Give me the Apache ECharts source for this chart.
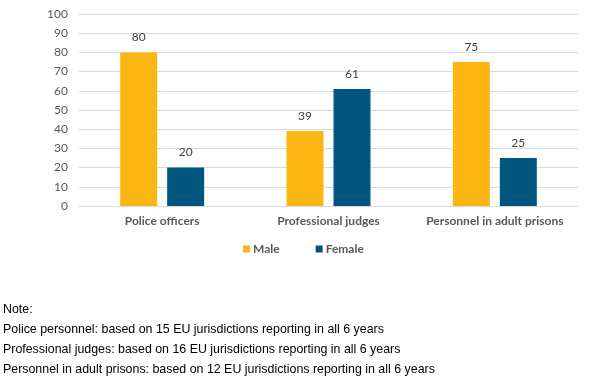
<!DOCTYPE html>
<html><head><meta charset="utf-8">
<script src="https://cdn.jsdelivr.net/npm/echarts@6/dist/echarts.min.js"></script>
<style>html,body{margin:0;padding:0;background:#fff}#c{width:602px;height:380px}</style>
</head><body><div id="c"></div>
<script>
const categories = ['Police officers', 'Professional judges', 'Personnel in adult prisons'];
const male = [80, 39, 75];
const female = [20, 61, 25];
const seriesNames = ['Male', 'Female'];
const yTicks = [0, 10, 20, 30, 40, 50, 60, 70, 80, 90, 100];
const notes = [
  'Note:',
  'Police personnel: based on 15 EU jurisdictions reporting in all 6 years',
  'Professional judges: based on 16 EU jurisdictions reporting in all 6 years',
  'Personnel in adult prisons: based on 12 EU jurisdictions reporting in all 6 years'
];
const chart = echarts.init(document.getElementById('c'));
const font = 'Lato, sans-serif';
const lbl = {show: true, position: 'top', distance: 9, color: '#404040', fontSize: 12, fontFamily: font};
chart.setOption({
  animation: false,
  grid: {left: 79, right: 24, top: 14, bottom: 174},
  legend: {
    data: seriesNames, left: 238, top: 238, itemWidth: 7, itemHeight: 7, itemGap: 36, icon: 'rect',
    textStyle: {color: '#595959', fontSize: 12, fontWeight: 'bold', fontFamily: font, padding: [0,0,0,-2]}
  },
  xAxis: {
    type: 'category', data: categories,
    axisLine: {lineStyle: {color: '#d9d9d9'}}, axisTick: {show: false},
    axisLabel: {interval: 0, hideOverlap: false, color: '#595959', fontSize: 12, fontWeight: 'bold', fontFamily: font, margin: 9}
  },
  yAxis: {
    type: 'value', min: yTicks[0], max: yTicks[yTicks.length - 1], interval: 10,
    axisLine: {show: false}, axisTick: {show: false},
    splitLine: {lineStyle: {color: '#d9d9d9'}},
    axisLabel: {color: '#595959', fontSize: 12, fontFamily: font, margin: 11}
  },
  series: [
    {name: seriesNames[0], type: 'bar', data: male, barWidth: 37, barGap: '27%', itemStyle: {color: '#FBB614'}, label: lbl},
    {name: seriesNames[1], type: 'bar', data: female, barWidth: 37, itemStyle: {color: '#00567F'}, label: lbl}
  ],
  graphic: notes.map((t, i) => ({
    type: 'text', left: 3, top: 304 + i * 20,
    style: {text: t, fill: '#000', font: '12.4px "Liberation Sans", Arial, sans-serif'}
  }))
});
</script></body></html>
